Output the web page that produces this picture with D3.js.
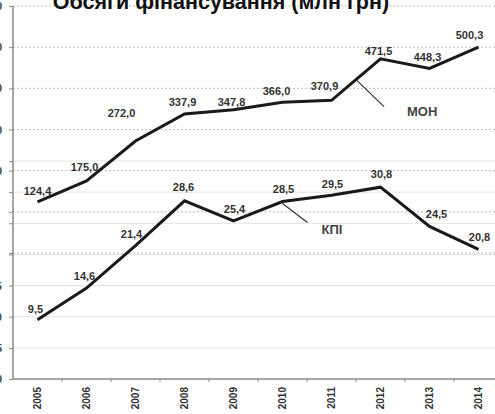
<!DOCTYPE html>
<html>
<head>
<meta charset="utf-8">
<script src="https://cdn.jsdelivr.net/npm/d3@7"></script>
<style>
  body { margin: 0; background: #fff; }
  svg { display: block; font-family: "Liberation Sans", Arial, sans-serif; }
</style>
</head>
<body>
<div id="chart-area"></div>
<script>
// data
var years = ["2005", "2006", "2007", "2008", "2009", "2010", "2011", "2012", "2013", "2014"];
var monValues = [124.4, 175.0, 272.0, 337.9, 347.8, 366.0, 370.9, 471.5, 448.3, 500.3];
var kpiValues = [9.5, 14.6, 21.4, 28.6, 25.4, 28.5, 29.5, 30.8, 24.5, 20.8];
var monTicks = [0, 100, 200, 300, 400, 500, 600];
var kpiTicks = [0, 5, 10, 15, 20, 25, 30, 35];

// label nudges (dx, dy) from the point
var monNudge = [[0, -11], [-2, -14], [-14, -28], [-2, -12], [-2, -8], [-6, -11], [-7, -14], [-2, -8], [-2, -11], [-9, -12]];
var kpiNudge = [[-2, -11], [-2, -12], [-4, -12], [-1, -14], [1, -12], [1, -12], [1, -11], [1, -13], [7, -12], [1, -12]];

var width = 495, height = 414;
var left = 13, bottom = 379;

var svg = d3.select("#chart-area").append("svg")
    .attr("width", width)
    .attr("height", height);

var x = d3.scaleBand()
    .domain(years)
    .range([left, left + 49 * 10]);

var yMon = d3.scaleLinear().domain([0, 600]).range([253, 6]);
var yKpi = d3.scaleLinear().domain([0, 35]).range([bottom, 161]);

// gridlines
svg.append("g").selectAll("line")
    .data(kpiTicks.filter(d => d > 0))
    .enter().append("line")
        .attr("x1", left).attr("x2", width)
        .attr("y1", d => yKpi(d)).attr("y2", d => yKpi(d))
        .attr("stroke", "#e2e2e2")
        .attr("stroke-width", 1);

svg.append("g").selectAll("line")
    .data(monTicks)
    .enter().append("line")
        .attr("x1", left).attr("x2", width)
        .attr("y1", d => yMon(d)).attr("y2", d => yMon(d))
        .attr("stroke", "#bdbdbd")
        .attr("stroke-width", 1)
        .attr("stroke-dasharray", "2,2");

// left axes (labels mostly off the left edge, as in the picture)
var axisMon = d3.axisLeft(yMon).tickValues(monTicks).tickSize(4)
    .tickFormat(d => d >= 200 ? d : "");
var axisKpi = d3.axisLeft(yKpi).tickValues(kpiTicks).tickSize(4)
    .tickFormat(d => d <= 15 ? d : "");

[axisMon, axisKpi].forEach(ax => {
    var g = svg.append("g")
        .attr("transform", `translate(${left},0)`)
        .call(ax);
    g.select(".domain").remove();
    g.selectAll(".tick line").attr("stroke", "#888");
    g.selectAll(".tick text")
        .attr("x", -11)
        .attr("font-size", 11)
        .attr("font-weight", "bold")
        .attr("fill", "#444");
});

svg.append("line")
    .attr("x1", left).attr("x2", left)
    .attr("y1", 6).attr("y2", bottom)
    .attr("stroke", "#888")
    .attr("stroke-width", 1.5);

// bottom axis
var gx = svg.append("g")
    .attr("transform", `translate(0,${bottom})`)
    .call(d3.axisBottom(x).tickSize(0).tickPadding(0));
gx.select(".domain").remove();
svg.append("line")
    .attr("x1", left).attr("x2", width)
    .attr("y1", bottom).attr("y2", bottom)
    .attr("stroke", "#888")
    .attr("stroke-width", 1.5);
svg.append("g").selectAll("line")
    .data(years)
    .enter().append("line")
        .attr("x1", d => x(d) + x.bandwidth()).attr("x2", d => x(d) + x.bandwidth())
        .attr("y1", bottom).attr("y2", bottom + 3)
        .attr("stroke", "#888");
gx.selectAll(".tick text")
    .attr("transform", "rotate(-90)")
    .attr("text-anchor", "end")
    .attr("x", -8)
    .attr("y", 0)
    .attr("dy", "0.35em")
    .attr("font-size", 10)
    .attr("font-weight", "bold")
    .attr("fill", "#333");

// lines
var cx = d => x(d) + x.bandwidth() / 2;

var monLine = d3.line()
    .x((d, i) => cx(years[i]))
    .y(d => yMon(d));
var kpiLine = d3.line()
    .x((d, i) => cx(years[i]))
    .y(d => yKpi(d));

svg.append("path")
    .datum(monValues)
    .attr("d", monLine)
    .attr("fill", "none")
    .attr("stroke", "#1a1a1a")
    .attr("stroke-width", 3);

svg.append("path")
    .datum(kpiValues)
    .attr("d", kpiLine)
    .attr("fill", "none")
    .attr("stroke", "#1a1a1a")
    .attr("stroke-width", 3);

// value labels
var fmt = v => v.toFixed(1).replace(".", ",");

svg.append("g").selectAll("text")
    .data(monValues)
    .enter().append("text")
        .attr("x", (d, i) => cx(years[i]) + monNudge[i][0])
        .attr("y", (d, i) => yMon(d) + monNudge[i][1])
        .attr("dy", "0.35em")
        .attr("text-anchor", "middle")
        .attr("font-size", 11)
        .attr("font-weight", "bold")
        .attr("fill", "#333")
        .text(fmt);

svg.append("g").selectAll("text")
    .data(kpiValues)
    .enter().append("text")
        .attr("x", (d, i) => cx(years[i]) + kpiNudge[i][0])
        .attr("y", (d, i) => yKpi(d) + kpiNudge[i][1])
        .attr("dy", "0.35em")
        .attr("text-anchor", "middle")
        .attr("font-size", 11)
        .attr("font-weight", "bold")
        .attr("fill", "#333")
        .text(fmt);

// callouts
var monAt = (yMon(monValues[6]) + yMon(monValues[7])) / 2;
var monX = (cx(years[6]) + cx(years[7])) / 2;
svg.append("line")
    .attr("x1", monX).attr("y1", monAt)
    .attr("x2", monX + 28).attr("y2", monAt + 27)
    .attr("stroke", "#333").attr("stroke-width", 1.2);
svg.append("text")
    .attr("x", monX + 51).attr("y", monAt + 32)
    .attr("dy", "0.35em")
    .attr("font-size", 13)
    .attr("font-weight", "bold")
    .attr("fill", "#444")
    .text("МОН");

var kpiX = cx(years[5]), kpiAt = yKpi(kpiValues[5]);
svg.append("line")
    .attr("x1", kpiX).attr("y1", kpiAt + 2)
    .attr("x2", kpiX + 25).attr("y2", kpiAt + 21)
    .attr("stroke", "#333").attr("stroke-width", 1.2);
svg.append("text")
    .attr("x", kpiX + 39).attr("y", kpiAt + 28)
    .attr("dy", "0.35em")
    .attr("font-size", 13)
    .attr("font-weight", "bold")
    .attr("fill", "#444")
    .text("КПІ");

// title (cut by the top edge in the picture)
svg.append("text")
    .attr("x", 221)
    .attr("y", 9)
    .attr("text-anchor", "middle")
    .attr("font-size", 21.5)
    .attr("font-weight", "bold")
    .attr("fill", "#111")
    .text("Обсяги фінансування (млн грн)");
</script>
</body>
</html>
